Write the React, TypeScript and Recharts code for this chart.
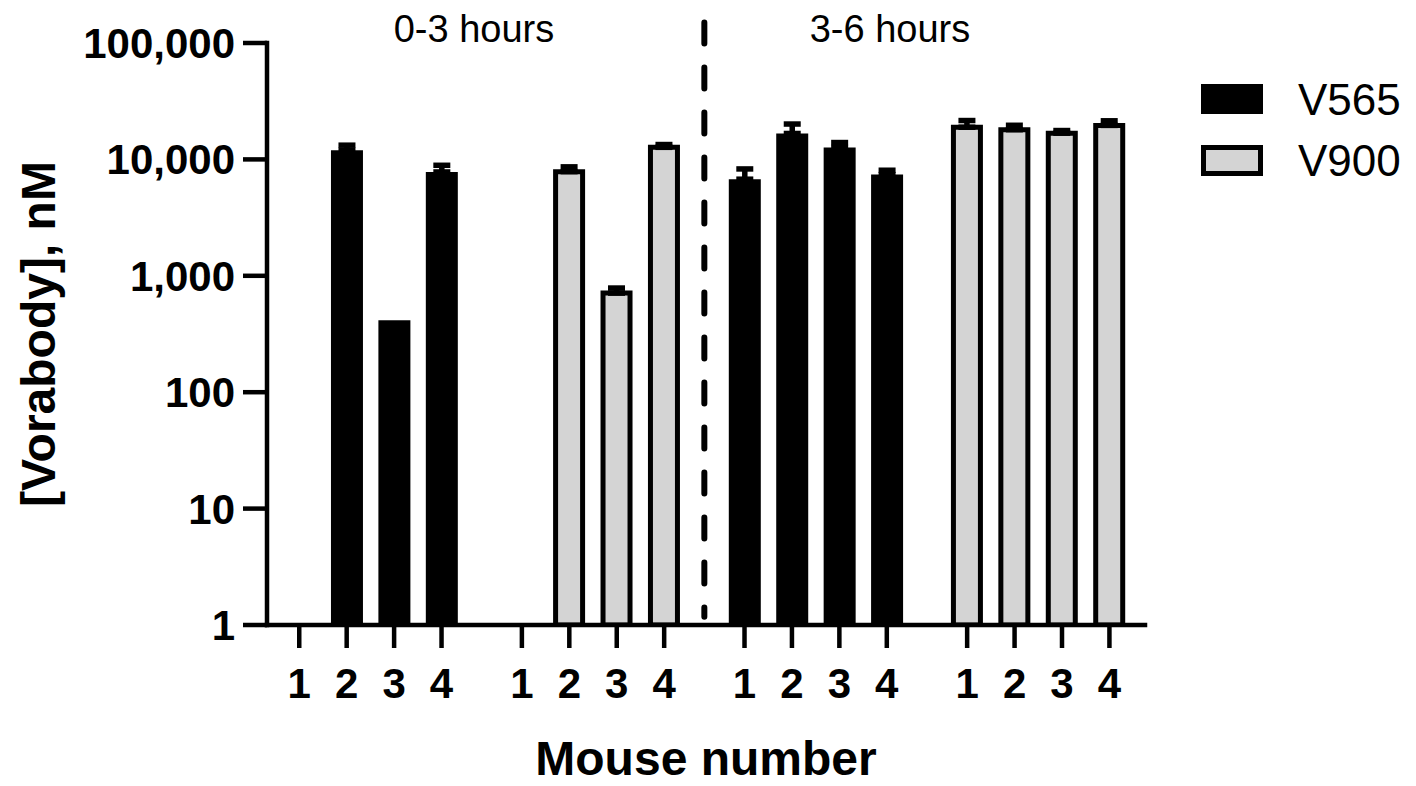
import React from 'react'
import { BarChart, Bar, XAxis, YAxis, ErrorBar, ReferenceLine } from 'recharts'

// mouse numbers, one label per bar in every group
const MICE = ['1', '2', '3', '4']
const SERIES = ['V565', 'V900']
const PERIODS = ['0-3 hours', '3-6 hours']

// [Vorabody] in nM (null = nothing drawn)
const V565_EARLY = [null, 12000, 416, 7800]
const V565_EARLY_ERR = [null, 1250, null, 1100]
const V900_EARLY = [null, 7850, 710, 12700]
const V900_EARLY_ERR = [null, 780, 75, 720]
const V565_LATE = [6760, 16700, 12650, 7400]
const V565_LATE_ERR = [1520, 3430, 1310, 670]
const V900_LATE = [18900, 18000, 16800, 19600]
const V900_LATE_ERR = [2670, 1640, 900, 1860]

const Y_TICKS = [1, 10, 100, 1000, 10000, 100000]

const FONT = '"Liberation Sans", Arial, sans-serif'
const GREY = '#d4d4d4'
const GROUP_STEP = 4.694 // distance between first bars of two groups, in bar units

const groups = [
  { series: 0, values: V565_EARLY, errs: V565_EARLY_ERR },
  { series: 1, values: V900_EARLY, errs: V900_EARLY_ERR },
  { series: 0, values: V565_LATE, errs: V565_LATE_ERR },
  { series: 1, values: V900_LATE, errs: V900_LATE_ERR },
]

const rows = groups.flatMap((g, gi) =>
  MICE.map((m, i) => {
    const v = g.values[i]
    const e = g.errs[i]
    return {
      x: gi * GROUP_STEP + i,
      mouse: m,
      v565: g.series === 0 ? v : null,
      e565: g.series === 0 && e != null ? [0, e] : null,
      v900: g.series === 1 ? v : null,
      e900: g.series === 1 && e != null ? [0, e] : null,
    }
  })
)

const xTicks = rows.map((r) => r.x)
const xDomain = [-0.68, 3 * GROUP_STEP + 3 + 0.75]
const dividerX = (GROUP_STEP + 3 + 2 * GROUP_STEP) / 2

const YLabel = ({ viewBox }: any) => (
  <text
    transform={`translate(${viewBox.x + 38}, ${viewBox.y + viewBox.height / 2}) rotate(-90)`}
    textAnchor="middle"
    dominantBaseline="central"
    style={{ fontSize: 48, fontWeight: 'bold', fontFamily: FONT, fill: '#000' }}
  >
    [Vorabody], nM
  </text>
)

const XLabel = ({ viewBox }: any) => (
  <text
    x={viewBox.x + viewBox.width / 2}
    y={viewBox.y + 150}
    textAnchor="middle"
    style={{ fontSize: 48, fontWeight: 'bold', fontFamily: FONT, fill: '#000' }}
  >
    Mouse number
  </text>
)

const overlayText: React.CSSProperties = {
  position: 'absolute',
  fontFamily: FONT,
  lineHeight: 1,
  color: '#000',
  whiteSpace: 'nowrap',
}

export default function App() {
  return (
    <div style={{ position: 'absolute', left: 0, top: 0, width: 1416, height: 786, background: '#fff' }}>
      <BarChart width={1416} height={786} data={rows} margin={{ top: 43, right: 271, bottom: 61, left: 0 }}>
        <XAxis
          xAxisId="a"
          dataKey="x"
          type="number"
          domain={xDomain}
          ticks={xTicks}
          interval={0}
          allowDataOverflow
          tickFormatter={(_v, i) => MICE[i % MICE.length]}
          tick={{ fontSize: 42, fontWeight: 'bold', fill: '#000', fontFamily: FONT }}
          tickLine={{ stroke: '#000', strokeWidth: 4.5 }}
          axisLine={{ stroke: '#000', strokeWidth: 4.5, strokeLinecap: 'square' }}
          tickSize={23}
          tickMargin={20}
          height={100}
          label={<XLabel />}
        />
        <XAxis xAxisId="b" dataKey="x" type="number" domain={xDomain} allowDataOverflow hide />
        <YAxis
          scale="log"
          type="number"
          domain={[1, 100000]}
          ticks={Y_TICKS}
          interval={0}
          allowDataOverflow
          tickFormatter={(v) => Number(v).toLocaleString('en-US')}
          tick={{ fontSize: 42, fontWeight: 'bold', fill: '#000', fontFamily: FONT }}
          tickLine={{ stroke: '#000', strokeWidth: 4.5 }}
          axisLine={{ stroke: '#000', strokeWidth: 4.5, strokeLinecap: 'square' }}
          tickSize={24}
          tickMargin={8}
          width={267}
          label={<YLabel />}
        />
        <ReferenceLine
          xAxisId="a"
          segment={[
            { x: dividerX, y: 150000 },
            { x: dividerX, y: 1.18 },
          ]}
          ifOverflow="visible"
          stroke="#000"
          strokeWidth={6}
          strokeDasharray="21 24"
          strokeLinecap="round"
        />
        <Bar xAxisId="a" dataKey="v565" name={SERIES[0]} fill="#000" barSize={32} isAnimationActive={false}>
          <ErrorBar dataKey="e565" direction="y" width={8.5} stroke="#000" strokeWidth={5.5} isAnimationActive={false} />
        </Bar>
        <Bar
          xAxisId="b"
          dataKey="v900"
          name={SERIES[1]}
          fill={GREY}
          stroke="#000"
          strokeWidth={5}
          barSize={27}
          isAnimationActive={false}
        >
          <ErrorBar dataKey="e900" direction="y" width={8.5} stroke="#000" strokeWidth={5.5} isAnimationActive={false} />
        </Bar>
      </BarChart>

      {/* time-window annotations */}
      <div style={{ ...overlayText, fontSize: 38, left: 474, top: 10, transform: 'translateX(-50%)' }}>{PERIODS[0]}</div>
      <div style={{ ...overlayText, fontSize: 38, left: 890, top: 10, transform: 'translateX(-50%)' }}>{PERIODS[1]}</div>

      {/* legend */}
      <div style={{ position: 'absolute', left: 1201, top: 84, width: 62, height: 30, background: '#000' }} />
      <div style={{ ...overlayText, fontSize: 44, left: 1298, top: 78 }}>{SERIES[0]}</div>
      <div
        style={{
          position: 'absolute',
          left: 1201,
          top: 145,
          width: 62,
          height: 31,
          background: GREY,
          border: '5px solid #000',
          boxSizing: 'border-box',
        }}
      />
      <div style={{ ...overlayText, fontSize: 44, left: 1298, top: 139 }}>{SERIES[1]}</div>
    </div>
  )
}
